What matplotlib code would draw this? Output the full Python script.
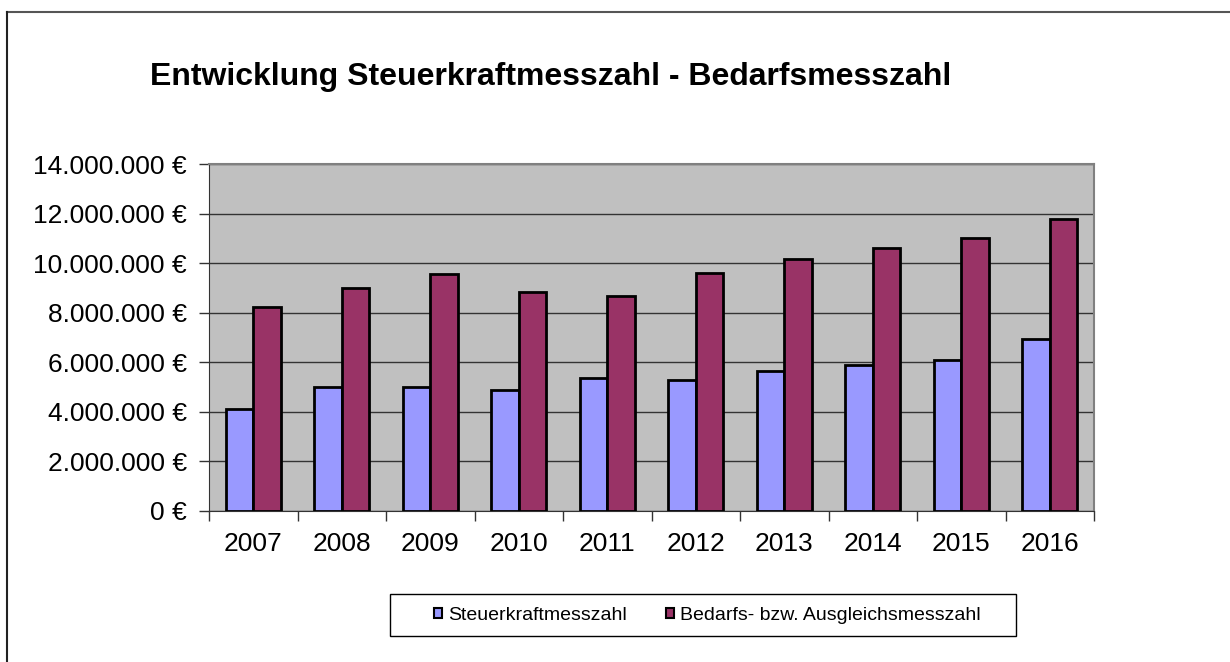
import matplotlib
matplotlib.use("Agg")
from matplotlib import pyplot as plt
from matplotlib.lines import Line2D
from matplotlib.patches import Rectangle
from matplotlib.ticker import FuncFormatter, FixedLocator
import numpy as np

years = ["2007", "2008", "2009", "2010", "2011", "2012", "2013", "2014", "2015", "2016"]
steuerkraft = [4100000, 4990000, 4990000, 4880000, 5380000, 5270000, 5660000, 5890000, 6090000, 6920000]
bedarf = [8240000, 9000000, 9570000, 8820000, 8680000, 9600000, 10160000, 10600000, 11020000, 11790000]

plt.rcParams["font.family"] = ["Liberation Sans", "DejaVu Sans"]

W, H = 1230, 662
fig = plt.figure(figsize=(12.3, 6.62), dpi=100)
ax = fig.add_axes([209 / W, 151 / H, 885 / W, 347 / H])
ax.set_facecolor("#c0c0c0")

x = np.arange(len(years))
w = 0.31
ax.bar(x - w / 2, steuerkraft, w, color="#9999ff", edgecolor="black", linewidth=2,
       label="Steuerkraftmesszahl", zorder=3)
ax.bar(x + w / 2, bedarf, w, color="#993366", edgecolor="black", linewidth=2,
       label="Bedarfs- bzw. Ausgleichsmesszahl", zorder=3)

ax.set_xlim(-0.5, len(years) - 0.5)
ax.set_ylim(0, 14000000)
ax.set_yticks(np.arange(0, 14000001, 2000000))
ax.yaxis.set_major_formatter(FuncFormatter(lambda v, p: f"{int(v):,}".replace(",", ".") + " €"))
ax.grid(axis="y", color="#333333", linewidth=1, zorder=1)

ax.set_xticks(x)
ax.set_xticklabels(years)
ax.xaxis.set_minor_locator(FixedLocator(np.arange(-0.5, len(years), 1)))
ax.tick_params(axis="x", which="major", length=0, labelsize=19, pad=15)
ax.tick_params(axis="x", which="minor", length=7, width=1, color="#333333")
ax.tick_params(axis="y", length=7, width=1, color="#333333", labelsize=19, pad=9)

for s in ["left", "bottom"]:
    ax.spines[s].set_color("#333333")
for s in ["top", "right"]:
    ax.spines[s].set_color("#808080")
    ax.spines[s].set_linewidth(1.5)

fig.text(150 / W, 1 - 77 / H, "Entwicklung Steuerkraftmesszahl - Bedarfsmesszahl",
         fontsize=23, fontweight="bold", va="center", ha="left")

leg = fig.legend(loc="center", bbox_to_anchor=(707 / W, 1 - 615 / H), ncol=2,
                 fontsize=14, frameon=False,
                 handlelength=0.42, handleheight=0.42, handletextpad=0.3, columnspacing=2.0)
for h in leg.legend_handles:
    h.set_linewidth(1.5)

# legend frame
fig.add_artist(Rectangle((390 / W, 1 - 636 / H), 626 / W, 42 / H, transform=fig.transFigure,
                         fill=False, edgecolor="black", linewidth=1))

# outer chart border
fig.add_artist(Line2D([7 / W, 1], [1 - 12 / H, 1 - 12 / H], color="#555555", linewidth=1.5))
fig.add_artist(Line2D([7 / W, 7 / W], [0, 1 - 12 / H], color="#222222", linewidth=1.5))

fig.savefig("out.png", dpi=100)
